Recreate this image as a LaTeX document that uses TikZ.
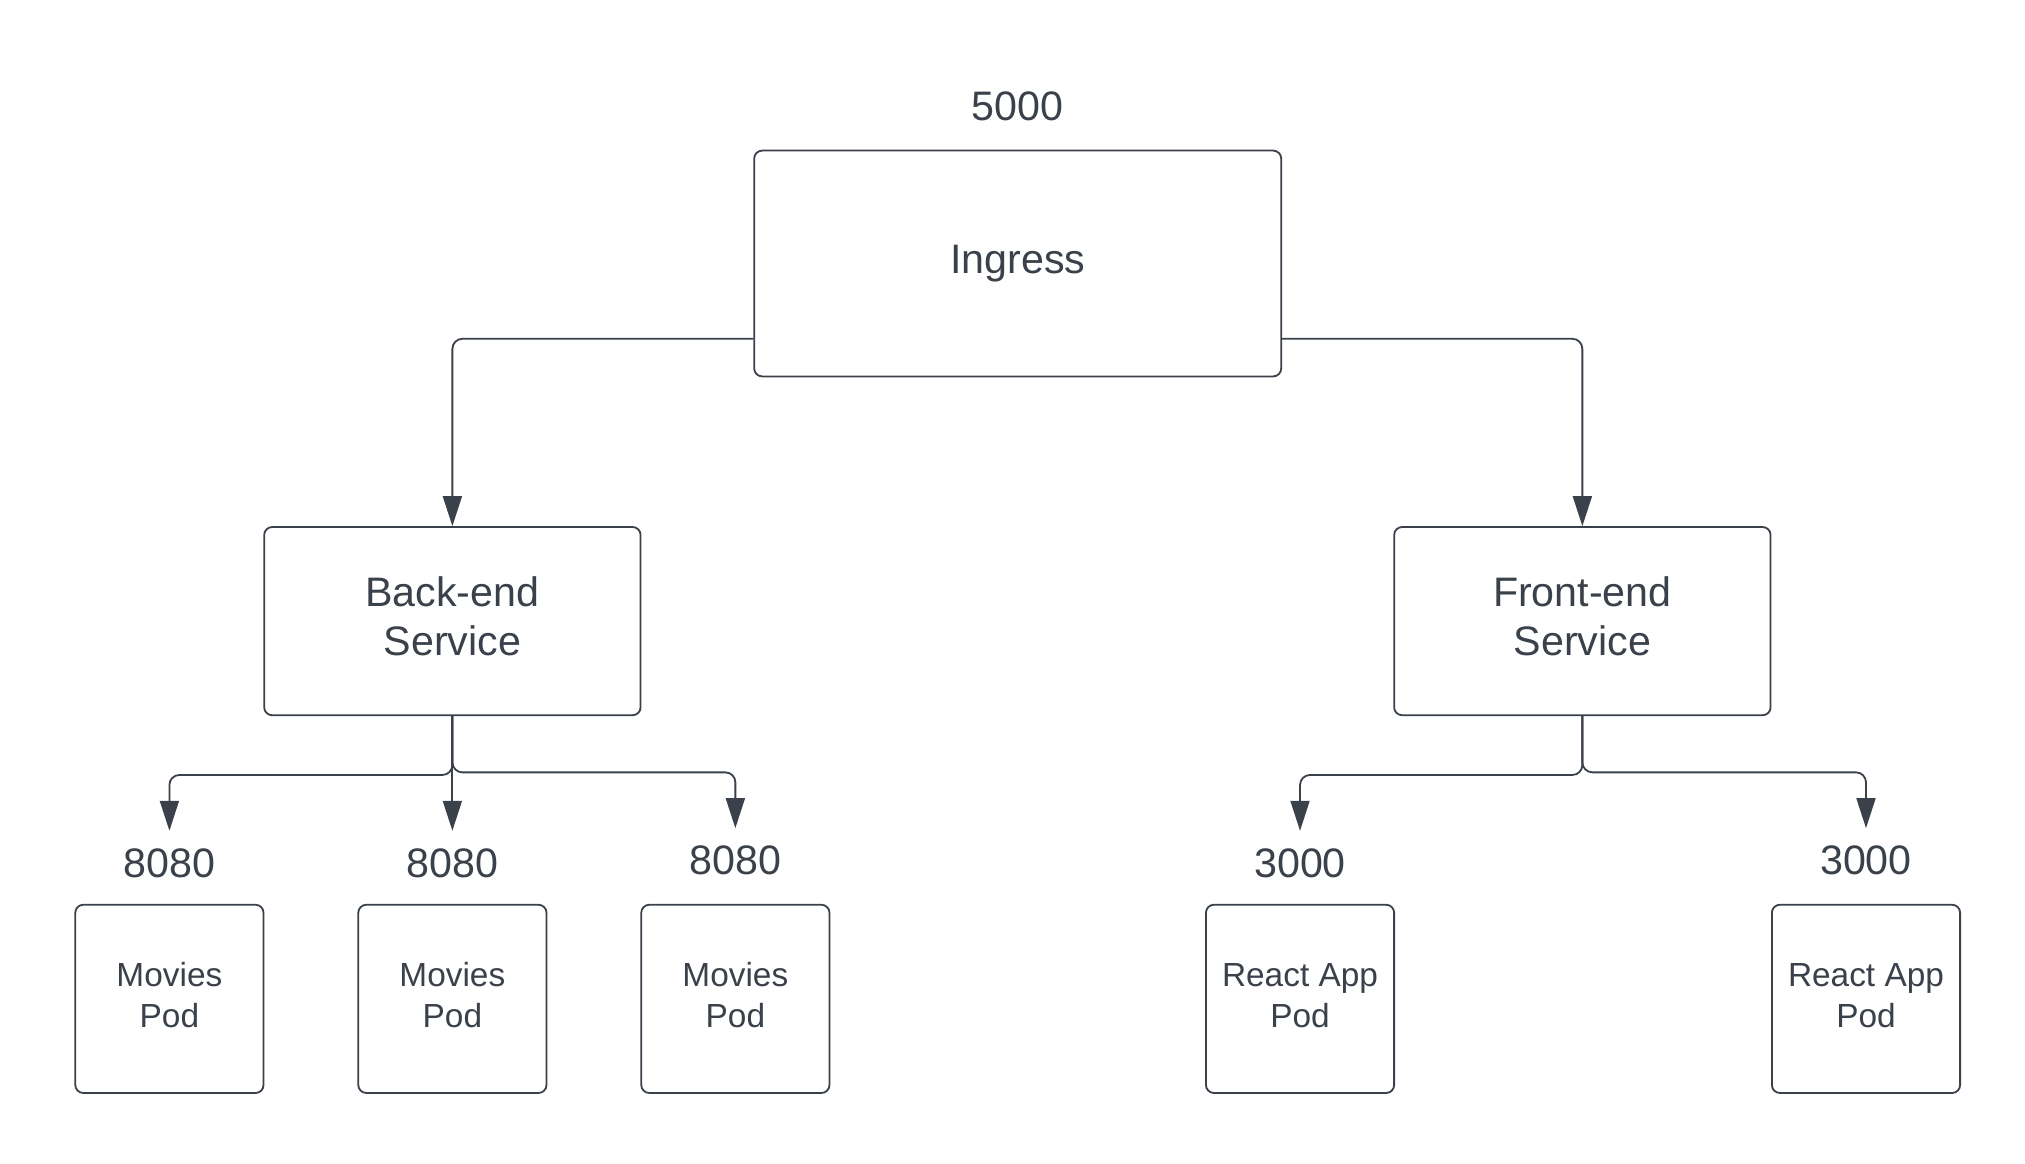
\documentclass[tikz,border=0pt]{standalone}
\usepackage{fontspec}
\setmainfont{Liberation Sans}
\usetikzlibrary{arrows.meta}
\definecolor{ink}{RGB}{58,65,74}
\newcommand\twoline[2]{\raisebox{#1}{\begin{tabular}{@{}c@{}}#2\end{tabular}}}
\begin{document}
\begin{tikzpicture}[x=0.649pt,y=-0.649pt,
 box/.style={draw=ink, line width=0.9pt, rounded corners=4pt, text=ink, align=center, inner sep=0pt, font=\fontsize{20.6}{24.7}\selectfont},
 big/.style={box, minimum width=263.5pt, minimum height=112.9pt},
 svc/.style={box, minimum width=188.2pt, minimum height=94.1pt},
 pod/.style={box, minimum width=94.1pt, minimum height=94.1pt, font=\fontsize{16.7}{20.1}\selectfont},
 port/.style={text=ink, inner sep=0pt, font=\fontsize{20.6}{24.7}\selectfont},
 conn/.style={draw=ink, line width=0.9pt, rounded corners=5pt, -{Triangle[width=9.5pt,length=15pt]}}]
\useasboundingbox (0,0) rectangle (1560,896);
\fill[white] (0,0) rectangle (1560,896);

\node[port] (p0) at (784,82) {5000};
\node[big] (ing) at (784,203) {Ingress};
\node[svc] (be) at (348.5,478.5) {\twoline{2.6pt}{Back-end\\Service}};
\node[svc] (fe) at (1219,478.5) {\twoline{2.6pt}{Front-end\\Service}};

\node[pod] (m1) at (130.5,769.5) {\twoline{3.2pt}{Movies\\Pod}};
\node[pod] (m2) at (348.5,769.5) {\twoline{3.2pt}{Movies\\Pod}};
\node[pod] (m3) at (566.5,769.5) {\twoline{3.2pt}{Movies\\Pod}};
\node[pod] (r1) at (1001.5,769.5) {\twoline{3.2pt}{React App\\Pod}};
\node[pod] (r2) at (1437.5,769.5) {\twoline{3.2pt}{React App\\Pod}};

\node[port] (l1) at (130.5,665) {8080};
\node[port] (l2) at (348.5,665) {8080};
\node[port] (l3) at (566.5,663) {8080};
\node[port] (l4) at (1001.5,665) {3000};
\node[port] (l5) at (1437.5,663) {3000};

\coordinate (t1) at (130.5,640);
\coordinate (t2) at (348.5,640);
\coordinate (t3) at (566.5,638);
\coordinate (t4) at (1001.5,640);
\coordinate (t5) at (1437.5,638);

\draw[conn] (ing.west |- 0,261) -| (be.north);
\draw[conn] (ing.east |- 0,261) -| (fe.north);

\draw[conn] (be.south) |- (t1 |- 0,597) -- (t1);
\draw[conn] (be.south) -- (t2);
\draw[conn] (be.south) |- (t3 |- 0,595) -- (t3);

\draw[conn] (fe.south) |- (t4 |- 0,597) -- (t4);
\draw[conn] (fe.south) |- (t5 |- 0,595) -- (t5);
\end{tikzpicture}
\end{document}
